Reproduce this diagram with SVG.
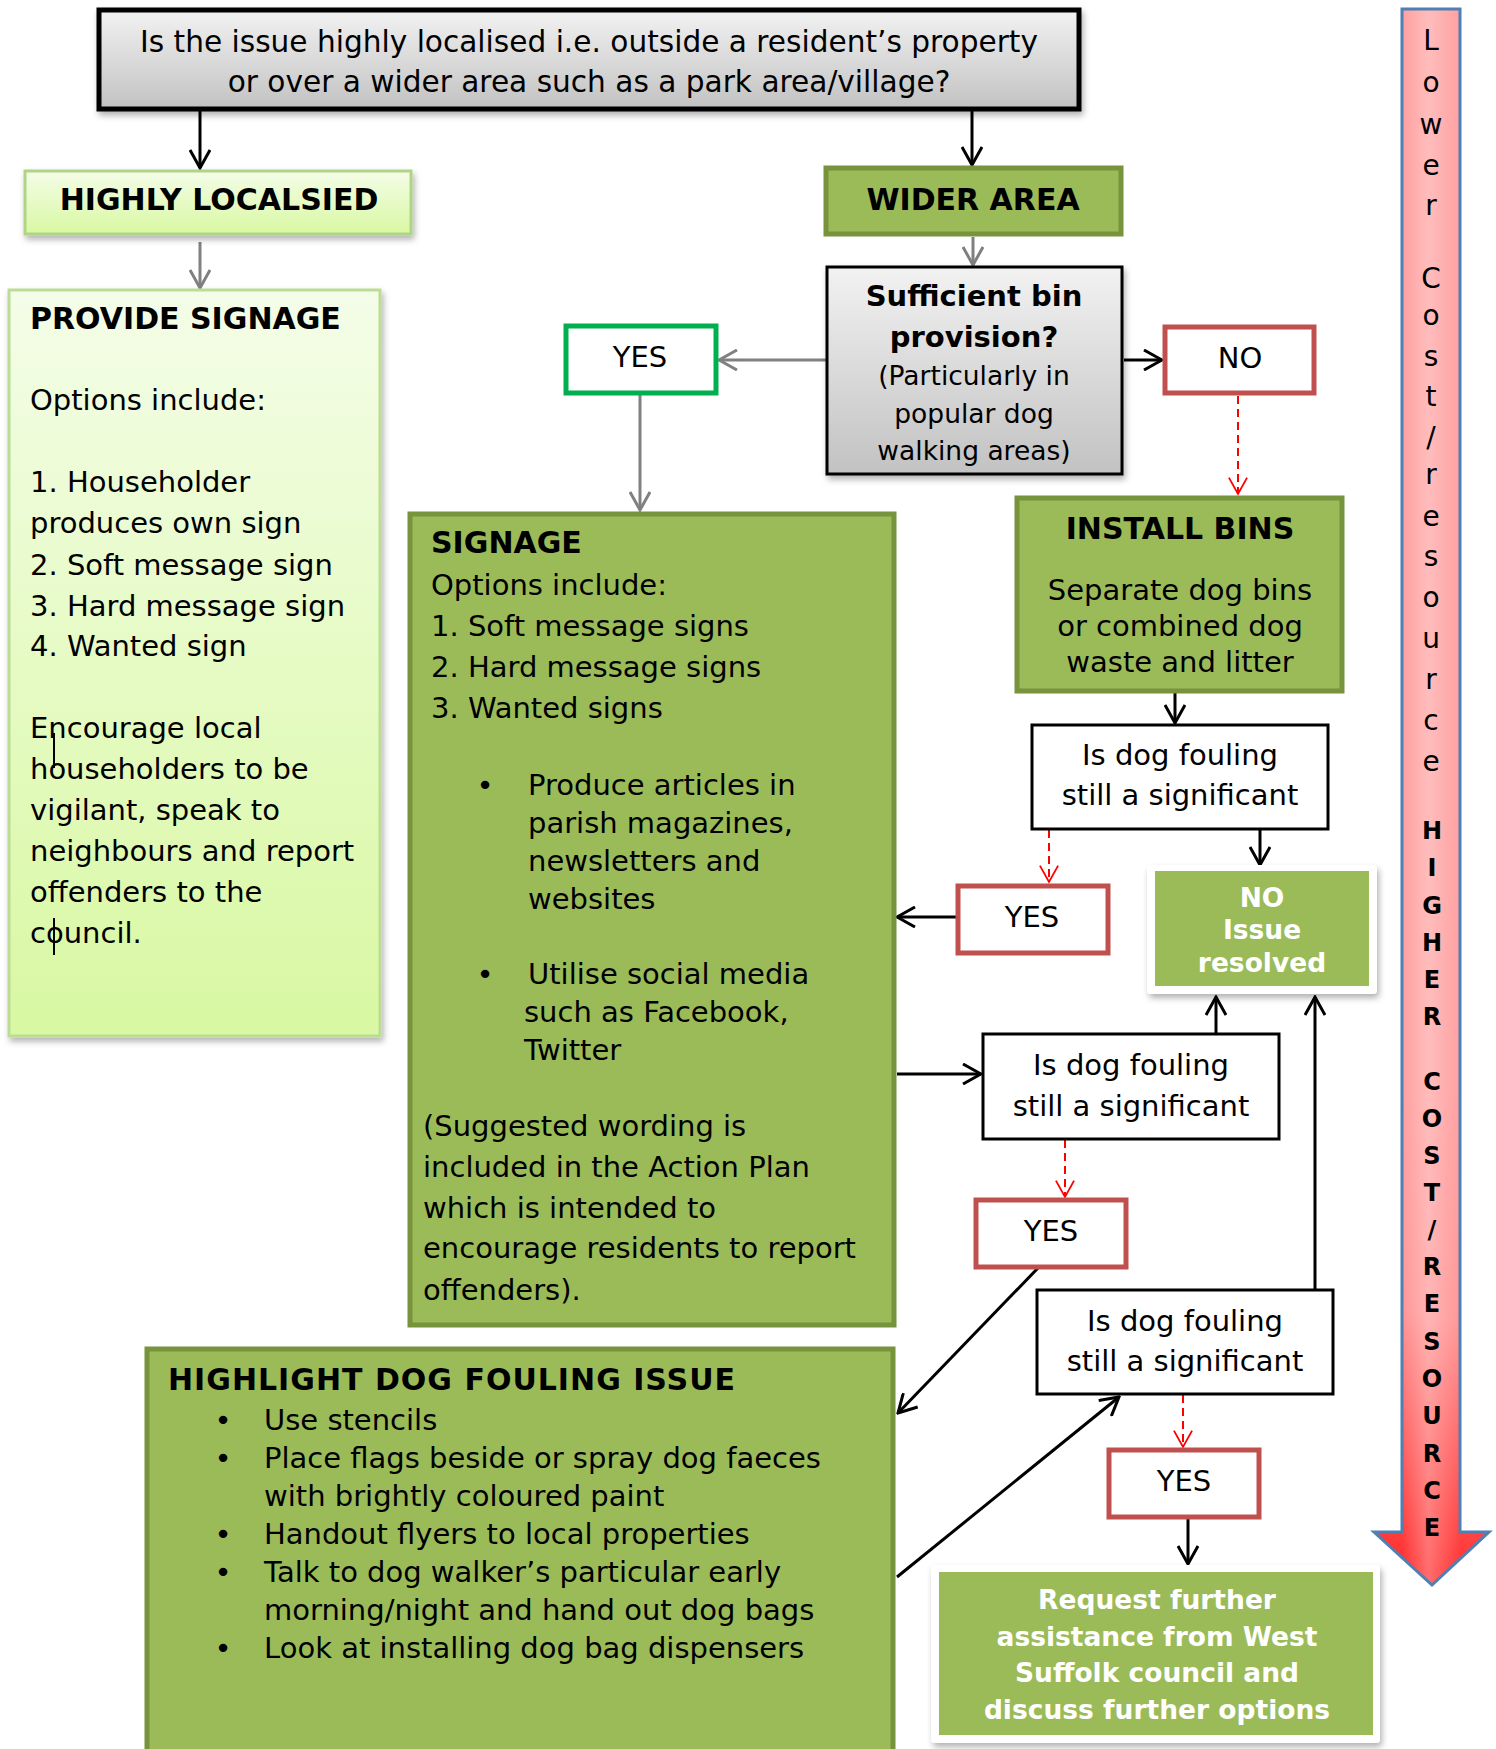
<svg xmlns="http://www.w3.org/2000/svg" width="1496" height="1749" viewBox="0 0 1496 1749">
<style>
.t{font-family:"DejaVu Sans",Verdana,sans-serif;font-size:29px;fill:#000}
.b{font-weight:bold}
.c{text-anchor:middle}
.w{fill:#fff}
.s26{font-size:26.5px}
.s30{font-size:30px}
.top{font-size:29.6px}
.ar{font-family:"DejaVu Sans",Verdana,sans-serif;font-size:28px;text-anchor:middle;fill:#000}
.arb{font-family:"DejaVu Sans",Verdana,sans-serif;font-size:24px;font-weight:bold;text-anchor:middle;fill:#000}
.green{fill:#9bbb59;stroke:#77933c;stroke-width:5}
.red{fill:#fff;stroke:#c0504d;stroke-width:5}
.q{fill:#fff;stroke:#000;stroke-width:3}
.k{stroke:#000;stroke-width:3;fill:none;marker-end:url(#ak)}
.g{stroke:#808080;stroke-width:3;fill:none;marker-end:url(#ag)}
.d{stroke:#ff0000;stroke-width:2;stroke-dasharray:8 5;fill:none;marker-end:url(#ad)}
</style>
<defs>
<linearGradient id="gray" x1="0" y1="0" x2="0" y2="1"><stop offset="0" stop-color="#f2f2f2"/><stop offset="1" stop-color="#c2c2c2"/></linearGradient>
<linearGradient id="lg" x1="0" y1="0" x2="0" y2="1"><stop offset="0" stop-color="#f4fde8"/><stop offset="1" stop-color="#d8f8a2"/></linearGradient>
<linearGradient id="arrowG" gradientUnits="userSpaceOnUse" x1="1372" y1="1585" x2="1500" y2="1100"><stop offset="0" stop-color="#ff2525"/><stop offset="0.55" stop-color="#ff9696"/><stop offset="1" stop-color="#ffa0a0"/></linearGradient>
<linearGradient id="arrowH" gradientUnits="userSpaceOnUse" x1="1402" y1="0" x2="1461" y2="0"><stop offset="0" stop-color="#fff" stop-opacity="0"/><stop offset="0.45" stop-color="#fff" stop-opacity="0.3"/><stop offset="1" stop-color="#fff" stop-opacity="0"/></linearGradient>
<filter id="sh" x="-10%" y="-10%" width="125%" height="130%"><feDropShadow dx="2" dy="4" stdDeviation="3" flood-color="#000" flood-opacity="0.3"/></filter>
<marker id="ak" viewBox="0 0 22 22" refX="20" refY="11" markerWidth="22" markerHeight="22" markerUnits="userSpaceOnUse" orient="auto"><path d="M2,1 L20,11 L2,21" fill="none" stroke="#000" stroke-width="3"/></marker>
<marker id="ag" viewBox="0 0 22 22" refX="20" refY="11" markerWidth="22" markerHeight="22" markerUnits="userSpaceOnUse" orient="auto"><path d="M2,1 L20,11 L2,21" fill="none" stroke="#808080" stroke-width="3"/></marker>
<marker id="ad" viewBox="0 0 22 22" refX="20" refY="11" markerWidth="20" markerHeight="20" markerUnits="userSpaceOnUse" orient="auto"><path d="M2,1 L20,11 L2,21" fill="none" stroke="#ff0000" stroke-width="2"/></marker>
</defs>
<rect width="1496" height="1749" fill="#fff"/>

<g id="cost-arrow">
<path d="M1402,9 L1460,9 L1460,1532 L1489,1532 L1432,1585 L1374,1532 L1402,1532 Z" fill="url(#arrowG)"/>
<path d="M1402,9 L1460,9 L1460,1532 L1489,1532 L1432,1585 L1374,1532 L1402,1532 Z" fill="url(#arrowH)" stroke="#4f7fb3" stroke-width="3" stroke-linejoin="miter"/>
<text class="ar" x="1431" y="50">L</text>
<text class="ar" x="1431" y="92">o</text>
<text class="ar" x="1431" y="134">w</text>
<text class="ar" x="1431" y="175">e</text>
<text class="ar" x="1431" y="215">r</text>
<text class="ar" x="1431" y="288">C</text>
<text class="ar" x="1431" y="325">o</text>
<text class="ar" x="1431" y="366">s</text>
<text class="ar" x="1431" y="406">t</text>
<text class="ar" x="1431" y="447">/</text>
<text class="ar" x="1431" y="484">r</text>
<text class="ar" x="1431" y="526">e</text>
<text class="ar" x="1431" y="566">s</text>
<text class="ar" x="1431" y="607">o</text>
<text class="ar" x="1431" y="648">u</text>
<text class="ar" x="1431" y="689">r</text>
<text class="ar" x="1431" y="730">c</text>
<text class="ar" x="1431" y="771">e</text>
<text class="arb" x="1432" y="839">H</text>
<text class="arb" x="1432" y="876">I</text>
<text class="arb" x="1432" y="914">G</text>
<text class="arb" x="1432" y="951">H</text>
<text class="arb" x="1432" y="988">E</text>
<text class="arb" x="1432" y="1025">R</text>
<text class="arb" x="1432" y="1090">C</text>
<text class="arb" x="1432" y="1127">O</text>
<text class="arb" x="1432" y="1164">S</text>
<text class="arb" x="1432" y="1201">T</text>
<text class="arb" x="1432" y="1238">/</text>
<text class="arb" x="1432" y="1275">R</text>
<text class="arb" x="1432" y="1312">E</text>
<text class="arb" x="1432" y="1350">S</text>
<text class="arb" x="1432" y="1387">O</text>
<text class="arb" x="1432" y="1424">U</text>
<text class="arb" x="1432" y="1462">R</text>
<text class="arb" x="1432" y="1499">C</text>
<text class="arb" x="1432" y="1536">E</text>
</g>

<g id="connectors">
<line class="k" x1="200" y1="110" x2="200" y2="168"/>
<line class="k" x1="972" y1="110" x2="972" y2="165"/>
<line class="g" x1="200" y1="242" x2="200" y2="288"/>
<line class="g" x1="973" y1="237" x2="973" y2="265"/>
<line class="g" x1="826" y1="360" x2="719" y2="360"/>
<line class="g" x1="640" y1="395" x2="640" y2="510"/>
<line class="k" x1="1124" y1="360" x2="1162" y2="360"/>
<line class="d" x1="1238" y1="396" x2="1238" y2="494"/>
<line class="k" x1="1175" y1="693" x2="1175" y2="723"/>
<line class="d" x1="1049" y1="830" x2="1049" y2="882"/>
<line class="k" x1="956" y1="917" x2="897" y2="917"/>
<line class="k" x1="1260" y1="830" x2="1260" y2="865"/>
<line class="k" x1="897" y1="1074" x2="981" y2="1074"/>
<line class="k" x1="1216" y1="1033" x2="1216" y2="997"/>
<line class="d" x1="1065" y1="1140" x2="1065" y2="1197"/>
<line class="k" x1="1038" y1="1268" x2="898" y2="1413"/>
<line class="k" x1="1315" y1="1290" x2="1315" y2="997"/>
<line class="k" x1="897" y1="1577" x2="1119" y2="1397"/>
<line class="d" x1="1183" y1="1395" x2="1183" y2="1447"/>
<line class="k" x1="1188" y1="1519" x2="1188" y2="1564"/>
</g>

<g id="n-top">
<rect x="99" y="10" width="980" height="99" fill="url(#gray)" stroke="#000" stroke-width="5" filter="url(#sh)"/>
<text class="t c top" x="589" y="52">Is the issue highly localised i.e. outside a resident’s property</text>
<text class="t c top" x="589" y="92">or over a wider area such as a park area/village?</text>
</g>

<g id="n-highly">
<rect x="25" y="171" width="386" height="63" fill="url(#lg)" stroke="#b0d485" stroke-width="3" filter="url(#sh)"/>
<text class="t b c s30" x="219" y="210">HIGHLY LOCALSIED</text>
</g>

<g id="n-wider">
<rect x="826" y="168" width="295" height="66" class="green"/>
<text class="t b c s30" x="973" y="210">WIDER AREA</text>
</g>

<g id="n-provide">
<rect x="9" y="290" width="371" height="746" fill="url(#lg)" stroke="#bcdc95" stroke-width="3" filter="url(#sh)"/>
<text class="t b s30" x="30" y="329">PROVIDE SIGNAGE</text>
<text class="t" x="30" y="410">Options include:</text>
<text class="t" x="30" y="492">1. Householder</text>
<text class="t" x="30" y="533">produces own sign</text>
<text class="t" x="30" y="575">2. Soft message sign</text>
<text class="t" x="30" y="616">3. Hard message sign</text>
<text class="t" x="30" y="656">4. Wanted sign</text>
<text class="t" x="30" y="738">Encourage local</text>
<text class="t" x="30" y="779">householders to be</text>
<text class="t" x="30" y="820">vigilant, speak to</text>
<text class="t" x="30" y="861">neighbours and report</text>
<text class="t" x="30" y="902">offenders to the</text>
<text class="t" x="30" y="943">council.</text>
<line x1="54" y1="733" x2="54" y2="768" stroke="#000" stroke-width="2"/>
<line x1="54" y1="918" x2="54" y2="955" stroke="#000" stroke-width="2"/>
</g>

<g id="n-sufficient">
<rect x="827" y="267" width="295" height="207" fill="url(#gray)" stroke="#000" stroke-width="3" filter="url(#sh)"/>
<text class="t b c" x="974" y="306">Sufficient bin</text>
<text class="t b c" x="974" y="347">provision?</text>
<text class="t c s26" x="974" y="385">(Particularly in</text>
<text class="t c s26" x="974" y="423">popular dog</text>
<text class="t c s26" x="974" y="460">walking areas)</text>
</g>

<g id="n-yes-green">
<rect x="566" y="326" width="150" height="67" fill="#fff" stroke="#00b050" stroke-width="5"/>
<text class="t c" x="640" y="367">YES</text>
</g>

<g id="n-no">
<rect x="1165" y="327" width="149" height="66" class="red"/>
<text class="t c" x="1240" y="368">NO</text>
</g>

<g id="n-install">
<rect x="1017" y="498" width="325" height="193" class="green"/>
<text class="t b c s30" x="1180" y="539">INSTALL BINS</text>
<text class="t c" x="1180" y="600">Separate dog bins</text>
<text class="t c" x="1180" y="636">or combined dog</text>
<text class="t c" x="1180" y="672">waste and litter</text>
</g>

<g id="n-signage">
<rect x="410" y="514" width="484" height="811" class="green"/>
<text class="t b s30" x="431" y="553">SIGNAGE</text>
<text class="t" x="431" y="595">Options include:</text>
<text class="t" x="431" y="636">1. Soft message signs</text>
<text class="t" x="431" y="677">2. Hard message signs</text>
<text class="t" x="431" y="718">3. Wanted signs</text>
<text class="t c" x="485" y="795">•</text>
<text class="t" x="528" y="795">Produce articles in</text>
<text class="t" x="528" y="833">parish magazines,</text>
<text class="t" x="528" y="871">newsletters and</text>
<text class="t" x="528" y="909">websites</text>
<text class="t c" x="485" y="984">•</text>
<text class="t" x="528" y="984">Utilise social media</text>
<text class="t" x="524" y="1022">such as Facebook,</text>
<text class="t" x="524" y="1060">Twitter</text>
<text class="t" x="423" y="1136">(Suggested wording is</text>
<text class="t" x="423" y="1177">included in the Action Plan</text>
<text class="t" x="423" y="1218">which is intended to</text>
<text class="t" x="423" y="1258">encourage residents to report</text>
<text class="t" x="423" y="1300">offenders).</text>
</g>

<g id="n-q1">
<rect x="1032" y="725" width="296" height="104" class="q"/>
<text class="t c" x="1180" y="765">Is dog fouling</text>
<text class="t c" x="1180" y="805">still a significant</text>
</g>

<g id="n-yes1">
<rect x="958" y="886" width="150" height="67" class="red"/>
<text class="t c" x="1032" y="927">YES</text>
</g>

<g id="n-resolved">
<rect x="1147" y="865" width="230" height="129" rx="4" fill="#fff" filter="url(#sh)"/>
<rect x="1155" y="871" width="214" height="115" fill="#9bbb59"/>
<text class="t b c s26 w" x="1262" y="907">NO</text>
<text class="t b c s26 w" x="1262" y="939">Issue</text>
<text class="t b c s26 w" x="1262" y="972">resolved</text>
</g>

<g id="n-q2">
<rect x="983" y="1034" width="296" height="105" class="q"/>
<text class="t c" x="1131" y="1075">Is dog fouling</text>
<text class="t c" x="1131" y="1116">still a significant</text>
</g>

<g id="n-yes2">
<rect x="976" y="1200" width="150" height="67" class="red"/>
<text class="t c" x="1051" y="1241">YES</text>
</g>

<g id="n-q3">
<rect x="1037" y="1290" width="296" height="104" class="q"/>
<text class="t c" x="1185" y="1331">Is dog fouling</text>
<text class="t c" x="1185" y="1371">still a significant</text>
</g>

<g id="n-yes3">
<rect x="1109" y="1450" width="150" height="67" class="red"/>
<text class="t c" x="1184" y="1491">YES</text>
</g>

<g id="n-request">
<rect x="931" y="1565" width="449" height="178" rx="4" fill="#fff" filter="url(#sh)"/>
<rect x="939" y="1572" width="434" height="163" fill="#9bbb59"/>
<text class="t b c s26 w" x="1157" y="1609">Request further</text>
<text class="t b c s26 w" x="1157" y="1646">assistance from West</text>
<text class="t b c s26 w" x="1157" y="1682">Suffolk council and</text>
<text class="t b c s26 w" x="1157" y="1719">discuss further options</text>
</g>

<g id="n-highlight">
<rect x="147" y="1349" width="746" height="420" class="green"/>
<text class="t b s30" x="168" y="1390" letter-spacing="1">HIGHLIGHT DOG FOULING ISSUE</text>
<text class="t c" x="223" y="1430">•</text>
<text class="t" x="264" y="1430">Use stencils</text>
<text class="t c" x="223" y="1468">•</text>
<text class="t" x="264" y="1468">Place flags beside or spray dog faeces</text>
<text class="t" x="264" y="1506">with brightly coloured paint</text>
<text class="t c" x="223" y="1544">•</text>
<text class="t" x="264" y="1544">Handout flyers to local properties</text>
<text class="t c" x="223" y="1582">•</text>
<text class="t" x="264" y="1582">Talk to dog walker’s particular early</text>
<text class="t" x="264" y="1620">morning/night and hand out dog bags</text>
<text class="t c" x="223" y="1658">•</text>
<text class="t" x="264" y="1658">Look at installing dog bag dispensers</text>
</g>
</svg>
